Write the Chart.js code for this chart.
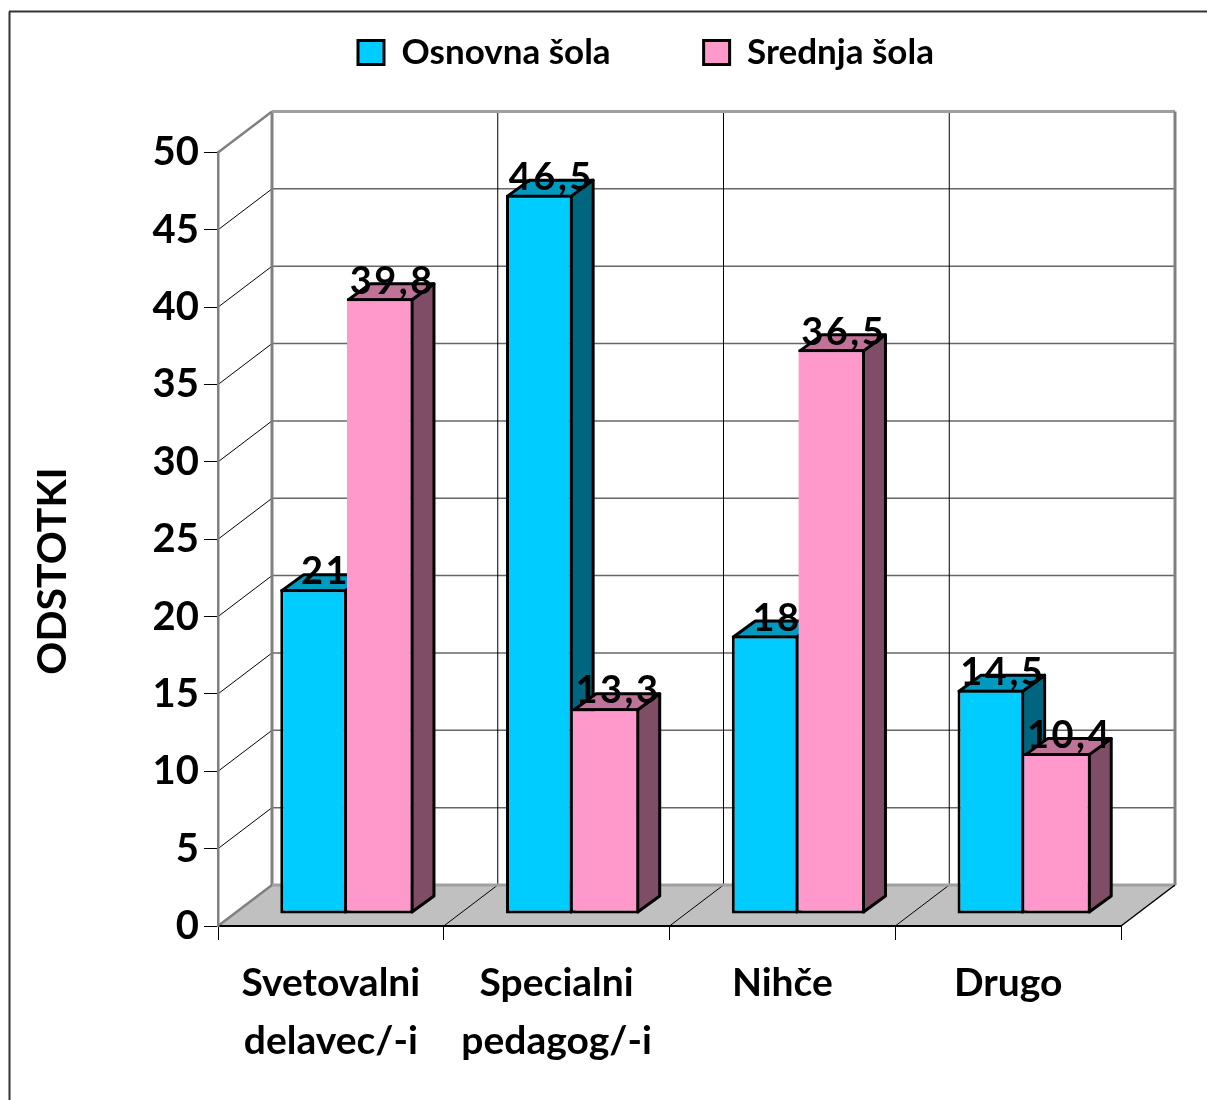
<!DOCTYPE html>
<html>
<head>
<meta charset="utf-8">
<title>Odstotki</title>
<script src="https://cdn.jsdelivr.net/npm/chart.js@4"></script>
<style>
  html, body { margin: 0; padding: 0; background: #fff; overflow: hidden; }
  canvas { display: block; }
</style>
</head>
<body>
<canvas id="grafico" width="1207" height="1100"></canvas>
<script>
const kategorije = [["Svetovalni", "delavec/-i"], ["Specialni", "pedagog/-i"], "Nihče", "Drugo"];
const osnovnaSola = [21, 46.5, 18, 14.5];
const srednjaSola = [39.8, 13.3, 36.5, 10.4];
const naslovOsi = "ODSTOTKI";

const PISAVA = "Lato, 'Open Sans', sans-serif";

// depth of the fake 3D box, and of the bars inside it
const GLOBINA = { x: 54, y: -41 };
const ZAMIK = { x: 16, y: -12 };
const STOLP = { x: 22, y: -16 };
const ROB = 1.5;

const barve = [
  { spredaj: "#00CCFF", zgoraj: "#0099BF", stran: "#006680" },
  { spredaj: "#FF99CC", zgoraj: "#BF7399", stran: "#804D66" }
];

function crta(ctx, x1, y1, x2, y2, barva, debelina) {
  ctx.strokeStyle = barva;
  ctx.lineWidth = debelina;
  ctx.beginPath();
  ctx.moveTo(x1, y1);
  ctx.lineTo(x2, y2);
  ctx.stroke();
}

const okvir3d = {
  id: "okvir3d",
  beforeInit(chart) {
    // legend sits in the top margin, so it must not push the plot down
    const fit = chart.legend.fit;
    chart.legend.fit = function () {
      fit.call(this);
      this.height = 0;
    };
  },
  beforeDraw(chart) {
    const ctx = chart.ctx;
    const x = chart.scales.x;
    const y = chart.scales.y;
    const korak = x.width / kategorije.length;
    const dx = GLOBINA.x, dy = GLOBINA.y;

    chart.legend.left = 265;
    chart.legend.top = -58;

    ctx.save();
    // outer frame of the picture
    crta(ctx, 9.5, 1100, 9.5, 11.5, "#333", 2);
    crta(ctx, 9, 11.5, 1207, 11.5, "#333", 2);

    // floor
    ctx.fillStyle = "#C0C0C0";
    ctx.beginPath();
    ctx.moveTo(x.left, y.bottom);
    ctx.lineTo(x.left + dx, y.bottom + dy);
    ctx.lineTo(x.right + dx, y.bottom + dy);
    ctx.lineTo(x.right, y.bottom);
    ctx.closePath();
    ctx.fill();

    // horizontal grid on the side and back wall
    y.ticks.forEach((t, i) => {
      const py = y.getPixelForTick(i);
      if (t.value === 0 || t.value === 50) return;
      crta(ctx, x.left, py, x.left + dx, py + dy, "#000", 1);
      crta(ctx, x.left + dx, py + dy, x.right + dx, py + dy, "#666", 1.5);
    });

    // category dividers on the floor and back wall
    for (let i = 1; i < kategorije.length; i++) {
      const px = x.left + korak * i;
      crta(ctx, px, y.bottom, px + dx, y.bottom + dy, "#000", 1);
      crta(ctx, px + dx, y.top + dy, px + dx, y.bottom + dy, "#000", 1);
    }

    // wall edges
    crta(ctx, x.left, y.top, x.left + dx, y.top + dy, "#808080", 2.5);
    crta(ctx, x.left, y.bottom, x.left + dx, y.bottom + dy, "#808080", 2.5);
    crta(ctx, x.left + dx, y.top + dy, x.left + dx, y.bottom + dy, "#808080", 3);
    crta(ctx, x.left + dx, y.top + dy, x.right + dx, y.top + dy, "#A0A0A0", 3);
    crta(ctx, x.right + dx, y.top + dy, x.right + dx, y.bottom + dy, "#808080", 3);
    crta(ctx, x.left + dx, y.bottom + dy, x.right + dx, y.bottom + dy, "#A0A0A0", 3);
    crta(ctx, x.right, y.bottom, x.right + dx, y.bottom + dy, "#000", 1.5);
    ctx.restore();
  },
  beforeDatasetsDraw(chart) {
    const ctx = chart.ctx;
    ctx.save();
    ctx.translate(ZAMIK.x, ZAMIK.y);
    ctx.strokeStyle = "#000";
    ctx.lineWidth = 3;
    ctx.lineJoin = "round";
    // side and top faces go first, in series order; the fronts come on top of them
    chart.data.datasets.forEach((ds, d) => {
      chart.getDatasetMeta(d).data.forEach(bar => {
        const levo = bar.x - bar.width / 2 + ROB;
        const desno = bar.x + bar.width / 2 - ROB;
        const vrh = bar.y + ROB;
        const dno = bar.base - ROB;
        ctx.fillStyle = barve[d].stran;
        ctx.beginPath();
        ctx.moveTo(desno, vrh);
        ctx.lineTo(desno + STOLP.x, vrh + STOLP.y);
        ctx.lineTo(desno + STOLP.x, dno + STOLP.y);
        ctx.lineTo(desno, dno);
        ctx.closePath();
        ctx.fill();
        ctx.stroke();
        ctx.fillStyle = barve[d].zgoraj;
        ctx.beginPath();
        ctx.moveTo(levo, vrh);
        ctx.lineTo(levo + STOLP.x, vrh + STOLP.y);
        ctx.lineTo(desno + STOLP.x, vrh + STOLP.y);
        ctx.lineTo(desno, vrh);
        ctx.closePath();
        ctx.fill();
        ctx.stroke();
      });
    });
  },
  afterDatasetsDraw(chart) {
    const ctx = chart.ctx;
    ctx.restore();

    ctx.save();
    ctx.fillStyle = "#000";
    ctx.textAlign = "center";
    ctx.textBaseline = "middle";
    ctx.font = "bold 38px " + PISAVA;
    ctx.letterSpacing = "2.5px";
    chart.data.datasets.forEach((ds, d) => {
      chart.getDatasetMeta(d).data.forEach((bar, i) => {
        const napis = String(ds.data[i]).replace(".", ",");
        ctx.fillText(napis, bar.x + ZAMIK.x + 12, bar.y + ZAMIK.y - 17);
      });
    });
    ctx.letterSpacing = "0px";

    // axis title sits lower than the middle of the axis, so it is placed by hand
    ctx.translate(53, 571);
    ctx.rotate(-Math.PI / 2);
    ctx.font = "bold 41px " + PISAVA;
    ctx.fillText(naslovOsi, 0, 0);
    ctx.restore();
  }
};

new Chart(document.getElementById("grafico"), {
  type: "bar",
  data: {
    labels: kategorije,
    datasets: [
      {
        label: "Osnovna šola",
        data: osnovnaSola,
        backgroundColor: barve[0].spredaj,
        borderColor: "#000",
        borderWidth: 3,
        borderSkipped: false,
        clip: false
      },
      {
        label: "Srednja šola",
        data: srednjaSola,
        backgroundColor: barve[1].spredaj,
        borderColor: "#000",
        borderWidth: 3,
        borderSkipped: "left",
        clip: false
      }
    ]
  },
  options: {
    responsive: false,
    animation: false,
    layout: { padding: { top: 152.5, right: 86, left: 0, bottom: 0 } },
    categoryPercentage: 0.59,
    barPercentage: 1,
    plugins: {
      legend: {
        display: true,
        position: "top",
        align: "start",
        labels: {
          boxWidth: 26,
          boxHeight: 24,
          padding: 93,
          color: "#000",
          font: { family: PISAVA, size: 35, weight: "bold" }
        }
      },
      tooltip: { enabled: false }
    },
    scales: {
      x: {
        afterFit(scale) { scale.height = 174; },
        border: { color: "#000", width: 2 },
        grid: { drawOnChartArea: false, color: "#000", tickLength: 14, lineWidth: 1 },
        ticks: {
          color: "#000",
          maxRotation: 0,
          autoSkip: false,
          padding: 14,
          font: { family: PISAVA, size: 39, weight: "bold", lineHeight: 1.5 }
        }
      },
      y: {
        min: 0,
        max: 50,
        afterFit(scale) { scale.width = 218; },
        border: { color: "#808080", width: 2.5 },
        grid: { drawOnChartArea: false, color: "#000", tickLength: 14, lineWidth: 1 },
        ticks: {
          stepSize: 5,
          color: "#000",
          padding: 5,
          font: { family: PISAVA, size: 40, weight: "bold" }
        }
      }
    }
  },
  plugins: [okvir3d]
});
</script>
</body>
</html>
